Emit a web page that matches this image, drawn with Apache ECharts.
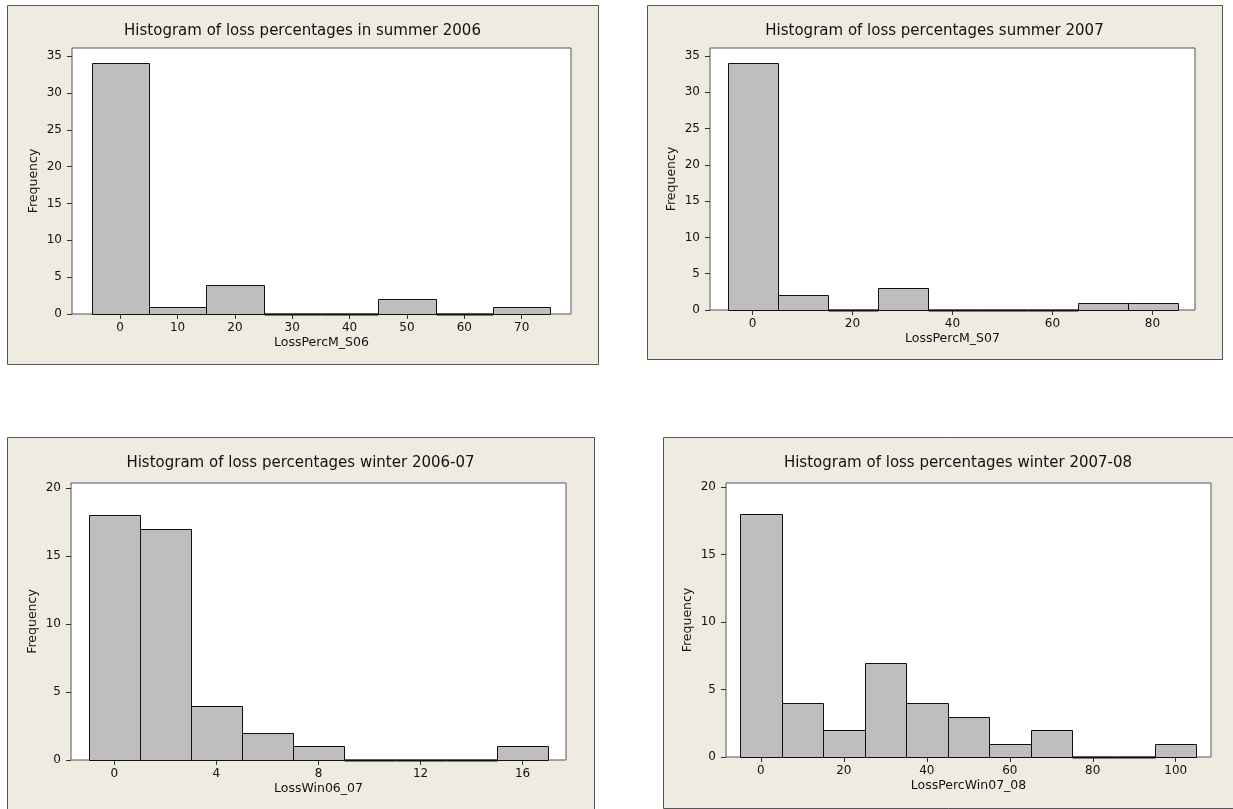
<!DOCTYPE html>
<html>
<head>
<meta charset="utf-8">
<title>Histograms of loss percentages</title>
<script src="https://cdn.jsdelivr.net/npm/echarts@6/dist/echarts.min.js"></script>
<style>
  html, body { margin: 0; padding: 0; background: #ffffff; }
  #chart { width: 1233px; height: 809px; }
</style>
</head>
<body>
<div id="chart"></div>
<script>
// Bin centres and frequencies for each histogram
const s06Centers = [0, 10, 20, 30, 40, 50, 60, 70];
const s06Counts  = [34, 1, 4, 0, 0, 2, 0, 1];
const s06XTicks  = [0, 10, 20, 30, 40, 50, 60, 70];
const s06YTicks  = [0, 5, 10, 15, 20, 25, 30, 35];

const s07Centers = [0, 10, 20, 30, 40, 50, 60, 70, 80];
const s07Counts  = [34, 2, 0, 3, 0, 0, 0, 1, 1];
const s07XTicks  = [0, 20, 40, 60, 80];
const s07YTicks  = [0, 5, 10, 15, 20, 25, 30, 35];

const w0607Centers = [0, 2, 4, 6, 8, 10, 12, 14, 16];
const w0607Counts  = [18, 17, 4, 2, 1, 0, 0, 0, 1];
const w0607XTicks  = [0, 4, 8, 12, 16];
const w0607YTicks  = [0, 5, 10, 15, 20];

const w0708Centers = [0, 10, 20, 30, 40, 50, 60, 70, 80, 90, 100];
const w0708Counts  = [18, 4, 2, 7, 4, 3, 1, 2, 0, 0, 1];
const w0708XTicks  = [0, 20, 40, 60, 80, 100];
const w0708YTicks  = [0, 5, 10, 15, 20];

const titles = [
  'Histogram of loss percentages in summer 2006',
  'Histogram of loss percentages summer 2007',
  'Histogram of loss percentages winter 2006-07',
  'Histogram of loss percentages winter 2007-08'
];
const xNames = ['LossPercM_S06', 'LossPercM_S07', 'LossWin06_07', 'LossPercWin07_08'];

const FONT = 'DejaVu Sans';
const PANEL_BG = '#efebe1';
const BAR_FILL = '#bebebe';

// Layout of each panel: frame box, plot grid, axis extents, bin width
const panels = [
  { frame: [7, 5, 591, 359],   grid: [72, 48, 499, 266],  x: [-8.4, 78.6], y: [0, 36.1],
    binW: 10, centers: s06Centers, counts: s06Counts, xt: s06XTicks, yt: s06YTicks },
  { frame: [647, 5, 575, 354], grid: [710, 48, 485, 262], x: [-8.5, 88.5], y: [0, 36.1],
    binW: 10, centers: s07Centers, counts: s07Counts, xt: s07XTicks, yt: s07YTicks },
  { frame: [7, 437, 587, 380], grid: [71, 483, 495, 277], x: [-1.7, 17.7], y: [0, 20.37],
    binW: 2, centers: w0607Centers, counts: w0607Counts, xt: w0607XTicks, yt: w0607YTicks },
  { frame: [663, 437, 590, 371], grid: [726, 483, 485, 274], x: [-8.4, 108.5], y: [0, 20.3],
    binW: 10, centers: w0708Centers, counts: w0708Counts, xt: w0708XTicks, yt: w0708YTicks }
];

function crisp(v) { return Math.round(v) + 0.5; }

function binRenderer(width) {
  return function (params, api) {
    const c = api.value(0);
    const v = api.value(1);
    const topLeft = api.coord([c - width / 2, v]);
    const botRight = api.coord([c + width / 2, 0]);
    const x0 = crisp(topLeft[0]), x1 = crisp(botRight[0]);
    const y0 = crisp(topLeft[1]), y1 = crisp(botRight[1]);
    return {
      type: 'rect',
      shape: { x: x0, y: y0, width: x1 - x0, height: y1 - y0 },
      style: { fill: BAR_FILL, stroke: '#111111', lineWidth: v === 0 ? 2 : 1 }
    };
  };
}

const graphics = [];
const grids = [], xAxes = [], yAxes = [], series = [];

panels.forEach(function (p, i) {
  const f = p.frame;
  graphics.push({
    type: 'rect', z: -10, silent: true,
    shape: { x: f[0] + 0.5, y: f[1] + 0.5, width: f[2], height: f[3] },
    style: { fill: PANEL_BG, stroke: '#555555', lineWidth: 1 }
  });
  graphics.push({
    type: 'text', z: 10, silent: true,
    x: f[0] + f[2] / 2, y: f[1] + 26,
    style: { text: titles[i], fill: '#111111', font: '15px "' + FONT + '"',
             textAlign: 'center', textVerticalAlign: 'middle' }
  });

  const g = p.grid;
  grids.push({
    left: g[0], top: g[1], width: g[2], height: g[3],
    show: true, backgroundColor: '#ffffff', borderColor: '#555555', borderWidth: 1,
    containLabel: false
  });
  xAxes.push({
    type: 'value', gridIndex: i, min: p.x[0], max: p.x[1], position: 'bottom',
    name: xNames[i], nameLocation: 'middle', nameGap: 22,
    nameTextStyle: { fontFamily: FONT, fontSize: 12.5, color: '#111111' },
    axisLine: { show: false, onZero: false },
    splitLine: { show: false },
    axisTick: { show: true, length: 5, customValues: p.xt, lineStyle: { color: '#333333' } },
    axisLabel: { customValues: p.xt, margin: 8, fontFamily: FONT, fontSize: 12, color: '#111111' }
  });
  yAxes.push({
    type: 'value', gridIndex: i, min: p.y[0], max: p.y[1], position: 'left',
    name: 'Frequency', nameLocation: 'middle', nameGap: 32,
    nameTextStyle: { fontFamily: FONT, fontSize: 12.5, color: '#111111' },
    axisLine: { show: false, onZero: false },
    splitLine: { show: false },
    axisTick: { show: true, length: 5, customValues: p.yt, lineStyle: { color: '#333333' } },
    axisLabel: { customValues: p.yt, margin: 10, fontFamily: FONT, fontSize: 12, color: '#111111' }
  });
  series.push({
    type: 'custom', xAxisIndex: i, yAxisIndex: i, clip: false,
    renderItem: binRenderer(p.binW),
    encode: { x: 0, y: 1 },
    data: p.centers.map(function (c, k) { return [c, p.counts[k]]; }),
    silent: true
  });
});

const chart = echarts.init(document.getElementById('chart'), null, { renderer: 'canvas' });
chart.setOption({
  animation: false,
  backgroundColor: '#ffffff',
  graphic: graphics,
  grid: grids,
  xAxis: xAxes,
  yAxis: yAxes,
  series: series
});
</script>
</body>
</html>
